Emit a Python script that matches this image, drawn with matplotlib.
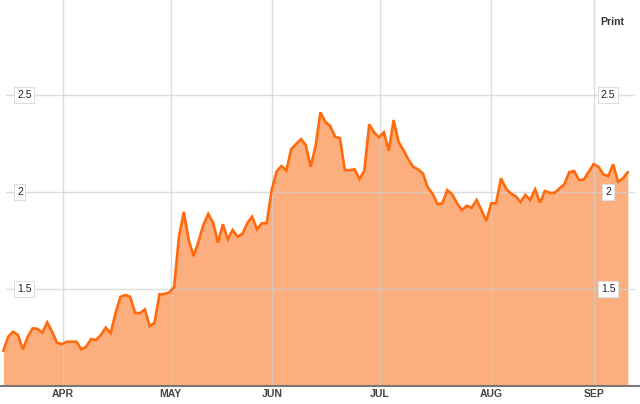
import matplotlib
matplotlib.use("Agg")
import matplotlib.pyplot as plt
import numpy as np

plt.rcParams['font.family'] = ['Liberation Sans', 'DejaVu Sans']

# ---- data ----
prices = [
    1.182, 1.254, 1.280, 1.263, 1.189, 1.254, 1.297, 1.295, 1.275, 1.328,
    1.280, 1.223, 1.216, 1.228, 1.228, 1.228, 1.189, 1.203, 1.242, 1.237,
    1.263, 1.301, 1.272, 1.375, 1.460, 1.469, 1.460, 1.378, 1.375, 1.395,
    1.309, 1.326, 1.473, 1.474, 1.482, 1.509, 1.770, 1.898, 1.753, 1.670,
    1.744, 1.830, 1.887, 1.842, 1.739, 1.834, 1.756, 1.804, 1.770, 1.784,
    1.839, 1.873, 1.808, 1.839, 1.840, 2.010, 2.105, 2.134, 2.110, 2.220,
    2.247, 2.273, 2.242, 2.130, 2.237, 2.411, 2.362, 2.340, 2.285, 2.277,
    2.113, 2.113, 2.117, 2.067, 2.110, 2.349, 2.308, 2.282, 2.308, 2.213,
    2.371, 2.259, 2.216, 2.169, 2.130, 2.117, 2.096, 2.024, 1.990, 1.938,
    1.942, 2.010, 1.988, 1.942, 1.907, 1.929, 1.919, 1.959, 1.907, 1.851,
    1.942, 1.942, 2.071, 2.019, 1.993, 1.979, 1.948, 1.985, 1.959, 2.014,
    1.945, 2.005, 1.996, 1.996, 2.019, 2.040, 2.102, 2.108, 2.062, 2.065,
    2.105, 2.144, 2.130, 2.091, 2.082, 2.143, 2.053, 2.071, 2.102,
]
month_labels = ["APR", "MAY", "JUN", "JUL", "AUG", "SEP"]
month_pos = [12.24, 34.3, 55.1, 77.2, 100.0, 121.1]   # trading-day index of month start
y_ticks = [1.5, 2.0, 2.5]
y_tick_labels = ["1.5", "2", "2.5"]

# ---- figure ----
fig = plt.figure(figsize=(6.4, 4.04), dpi=100)
ax = fig.add_axes([0, 18 / 404, 1, 386 / 404])
x = np.arange(len(prices))

line_col = "#ff6a0d"
fill_col = "#fdae7e"
grid_col = "#cfcfcf"

ax.fill_between(x, 1.0, prices, color=fill_col, lw=0, zorder=1)
ax.plot(x, prices, color=line_col, lw=1.9, zorder=3, solid_joinstyle="miter")

ax.set_xlim(-0.68, 130.5)
ax.set_ylim(1.0, 2.99)

for p in month_pos:
    ax.axvline(p, color=grid_col, lw=1.0, alpha=0.7, zorder=2)
for yt in y_ticks:
    ax.axhline(yt, xmin=0.009, xmax=0.99, color=grid_col, lw=1.0, alpha=0.7, zorder=2)

# y labels on both sides
for yt, lab in zip(y_ticks, y_tick_labels):
    for xf, ha in [(17 / 640, "left"), (608 / 640, "center")]:
        ax.text(xf, yt, lab, transform=ax.get_yaxis_transform(), ha=ha, va="center",
                fontsize=7.5, color="#222222", zorder=5,
                bbox=dict(boxstyle="square,pad=0.25", fc="white", ec="#dddddd", lw=0.8))

ax.text(612 / 640, 1 - 22 / 386, "Print", transform=ax.transAxes, ha="center", va="center",
        fontsize=7.5, fontweight="bold", color="#333333")

for spine in ["top", "left", "right"]:
    ax.spines[spine].set_visible(False)
ax.spines["bottom"].set_color("#777777")
ax.spines["bottom"].set_linewidth(1.5)
ax.spines["bottom"].set_zorder(6)

ax.set_yticks([])
ax.set_xticks(month_pos)
ax.set_xticklabels(month_labels, fontsize=7.5, fontweight="bold", color="#444444")
ax.tick_params(axis="x", length=0, pad=2)

fig.savefig("out.png", dpi=100)
